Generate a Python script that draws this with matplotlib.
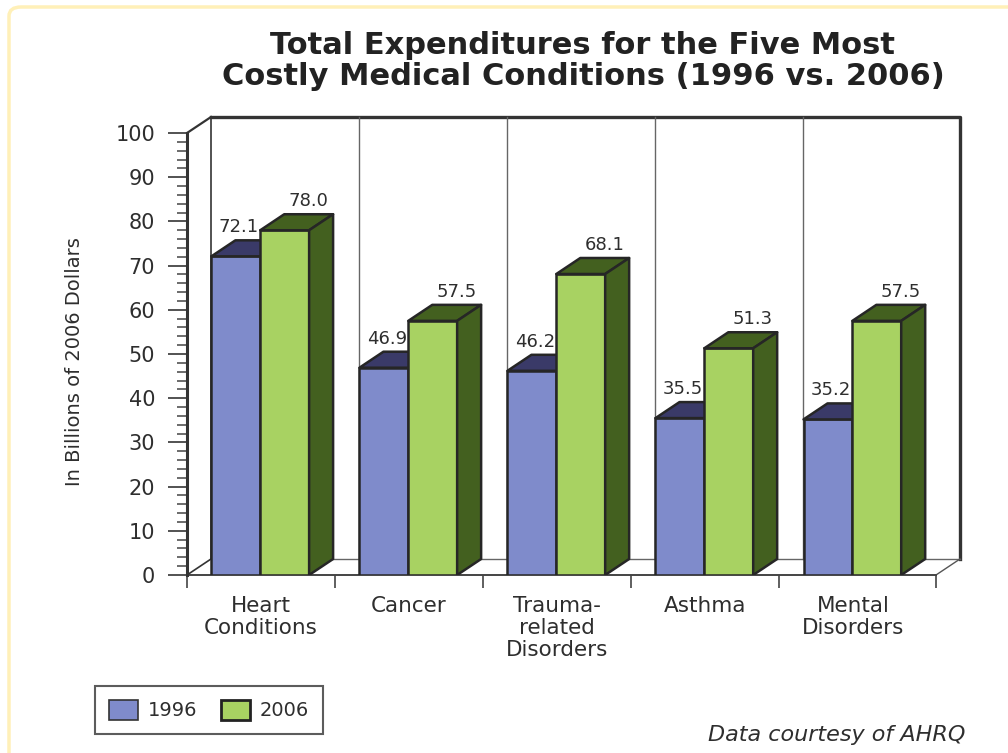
import matplotlib
matplotlib.use("Agg")
import matplotlib.pyplot as plt
from matplotlib.patches import Polygon, Patch, FancyBboxPatch

conditions = ["Heart\nConditions", "Cancer", "Trauma-\nrelated\nDisorders",
              "Asthma", "Mental\nDisorders"]
spend_1996 = [72.1, 46.9, 46.2, 35.5, 35.2]
spend_2006 = [78.0, 57.5, 68.1, 51.3, 57.5]
years = ["1996", "2006"]

# colours: front face, shaded (top/side) face
blue_front, blue_dark = "#7f8bcb", "#3a3a68"
green_front, green_dark = "#a8d262", "#43601f"
edge = "#262626"
wall = "#333333"
text_col = "#2e2e2e"

# pseudo-3D depth offset in data units
DX, DY = 0.162, 3.62
XMAX = 5.06
bar_w = 0.33
bar_off = 0.165

fig = plt.figure(figsize=(10.08, 7.53), dpi=100)
W, H = 1008, 753
ax = fig.add_axes([187 / W, (H - 575) / H, (936 - 187) / W, (575 - 133) / H])
ax.set_xlim(0, XMAX)
ax.set_ylim(0, 100)
for s in ax.spines.values():
    s.set_visible(False)

# back wall, side wall and floor
ax.plot([DX, DX], [DY, 100 + DY], color="#444444", lw=1.3, clip_on=False, zorder=1)
ax.plot([DX, XMAX + DX, XMAX + DX], [100 + DY, 100 + DY, DY], color=wall, lw=2.4,
        clip_on=False, zorder=1, solid_capstyle="projecting")
for i in range(1, 5):
    ax.plot([i + DX, i + DX], [DY, 100 + DY], color="#666666", lw=1.0, clip_on=False, zorder=1)
ax.plot([0, DX], [100, 100 + DY], color=wall, lw=1.6, clip_on=False, zorder=1)
ax.plot([DX, XMAX + DX], [DY, DY], color="#666666", lw=1.0, clip_on=False, zorder=1)
ax.plot([0, DX], [0, DY], color=wall, lw=1.2, clip_on=False, zorder=1)
ax.plot([XMAX, XMAX + DX], [0, DY], color="#555555", lw=1.0, clip_on=False, zorder=1)
ax.plot([0, XMAX], [0, 0], color="#444444", lw=1.4, clip_on=False, zorder=1)
ax.plot([0, 0], [0, 100], color=wall, lw=2.2, clip_on=False, zorder=6)

x_blue = [i + bar_off for i in range(len(conditions))]
x_green = [x + bar_w for x in x_blue]


def bar3d(xs, vals, front, dark, side):
    ax.bar(xs, vals, width=bar_w, align="edge", color=front, edgecolor=edge,
           linewidth=1.8, zorder=3)
    for x, v in zip(xs, vals):
        top = [(x, v), (x + DX, v + DY), (x + bar_w + DX, v + DY), (x + bar_w, v)]
        ax.add_patch(Polygon(top, closed=True, facecolor=dark, edgecolor=edge,
                             linewidth=1.8, zorder=3, joinstyle="round"))
        if side:
            sd = [(x + bar_w, 0), (x + bar_w, v), (x + bar_w + DX, v + DY),
                  (x + bar_w + DX, DY)]
            ax.add_patch(Polygon(sd, closed=True, facecolor=dark, edgecolor=edge,
                                 linewidth=1.8, zorder=3, joinstyle="round"))


bar3d(x_blue, spend_1996, blue_front, blue_dark, False)
bar3d(x_green, spend_2006, green_front, green_dark, True)

for x, v in zip(x_blue, spend_1996):
    ax.annotate(f"{v:.1f}", (x + bar_w / 2 + 0.02, v + DY), xytext=(0, 3),
                textcoords="offset points", ha="center", va="bottom",
                fontsize=13, color=text_col, zorder=5)
for x, v in zip(x_green, spend_2006):
    ax.annotate(f"{v:.1f}", (x + bar_w / 2 + DX, v + DY), xytext=(0, 3),
                textcoords="offset points", ha="center", va="bottom",
                fontsize=13, color=text_col, zorder=5)

# y axis ticks
ax.set_yticks(range(0, 101, 10))
ax.set_yticks(range(0, 101, 2), minor=True)
ax.tick_params(axis="y", which="major", length=14, width=1.3, color="#444444",
               labelsize=15, labelcolor=text_col, pad=9)
ax.tick_params(axis="y", which="minor", length=7, width=1.1, color="#444444")

# x axis: boundary ticks, labels at category centres
ax.set_xticks(list(range(5)) + [XMAX])
ax.set_xticklabels([])
ax.set_xticks([i + 0.5 for i in range(5)], minor=True)
ax.set_xticklabels(conditions, minor=True)
ax.tick_params(axis="x", which="major", length=9, width=1.2, color="#444444")
ax.tick_params(axis="x", which="minor", length=0, pad=15, labelsize=15.5,
               labelcolor=text_col)
for t in ax.get_xticklabels(minor=True):
    t.set_linespacing(1.12)
    t.set_verticalalignment("top")

ax.set_ylabel("In Billions of 2006 Dollars", fontsize=14, color=text_col)
ax.yaxis.set_label_coords(-0.138, 0.482)

fig.text(583 / W, 1 - 61 / H,
         "Total Expenditures for the Five Most\nCostly Medical Conditions (1996 vs. 2006)",
         ha="center", va="center", fontsize=22, fontweight="bold", color="#222222",
         linespacing=1.08)

handles = [Patch(facecolor=blue_front, edgecolor="#333333", linewidth=1.2),
           Patch(facecolor=green_front, edgecolor="#222222", linewidth=2.0)]
leg = fig.legend(handles, years, loc="center", bbox_to_anchor=(209 / W, 1 - 710 / H),
                 ncol=2, frameon=True, fancybox=False, fontsize=14,
                 handlelength=1.5, handleheight=1.2, handletextpad=0.5,
                 columnspacing=1.2, borderpad=0.7, borderaxespad=0, labelcolor=text_col)
leg.get_frame().set_edgecolor("#333333")
leg.get_frame().set_linewidth(1.5)

fig.text(965 / W, 1 - 735 / H, "Data courtesy of AHRQ", ha="right", va="center",
         fontsize=16, style="italic", color=text_col)

# pale rounded frame round the whole graphic
frame = FancyBboxPatch((9 / W, -0.05), 1.05, 1 - 7 / H + 0.05,
                       boxstyle="round,pad=0,rounding_size=0.012",
                       transform=fig.transFigure, facecolor="none",
                       edgecolor="#fff0b8", linewidth=2.5, zorder=0)
fig.patches.append(frame)

fig.savefig("out.png", dpi=100)
